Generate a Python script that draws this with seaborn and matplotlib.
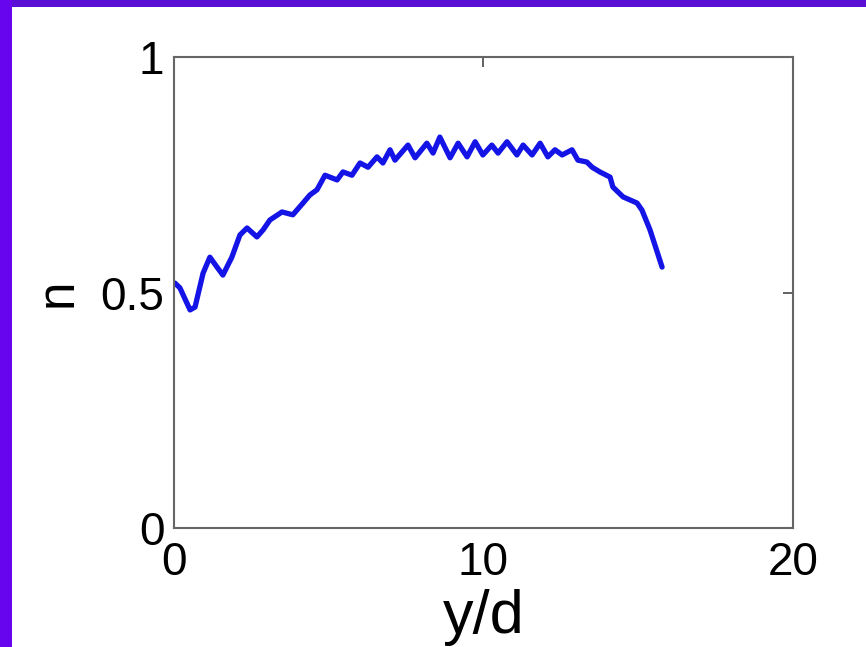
import matplotlib
matplotlib.use('Agg')
import matplotlib.pyplot as plt
import seaborn as sns
import pandas as pd
from matplotlib.patches import Rectangle

# values
y_over_d = [0.03, 0.19, 0.52, 0.68, 0.94, 1.16, 1.39, 1.58, 1.87, 2.13,
            2.36, 2.68, 2.88, 3.10, 3.49, 3.84, 4.17, 4.39, 4.62, 4.88,
            5.27, 5.46, 5.75, 6.01, 6.27, 6.56, 6.75, 6.98, 7.14, 7.56,
            7.79, 8.17, 8.37, 8.59, 8.92, 9.18, 9.47, 9.73, 9.98, 10.27,
            10.47, 10.76, 11.08, 11.28, 11.57, 11.83, 12.08, 12.31, 12.54, 12.86,
            13.05, 13.34, 13.51, 13.76, 14.09, 14.18, 14.51, 14.96, 15.12, 15.38,
            15.77]
n_vals = [0.520, 0.510, 0.463, 0.469, 0.541, 0.575, 0.554, 0.537, 0.575, 0.622,
          0.637, 0.618, 0.633, 0.654, 0.671, 0.665, 0.690, 0.707, 0.718, 0.749,
          0.739, 0.756, 0.749, 0.775, 0.766, 0.788, 0.775, 0.803, 0.781, 0.813,
          0.786, 0.817, 0.796, 0.830, 0.786, 0.817, 0.788, 0.820, 0.792, 0.813,
          0.796, 0.820, 0.792, 0.813, 0.792, 0.817, 0.788, 0.803, 0.792, 0.803,
          0.781, 0.777, 0.766, 0.756, 0.745, 0.724, 0.703, 0.690, 0.675, 0.633,
          0.554]
x_ticks = [0, 10, 20]
y_ticks = [0, 0.5, 1]
y_tick_labels = ['0', '0.5', '1']

sns.set_theme(style='white')
plt.rcParams['font.family'] = ['Liberation Sans', 'DejaVu Sans']

df = pd.DataFrame({'y/d': y_over_d, 'n': n_vals})

fig = plt.figure(figsize=(8.66, 6.47), dpi=100, facecolor='white')
ax = fig.add_axes([0.2009, 0.1839, 0.7148, 0.7280])

sns.lineplot(data=df, x='y/d', y='n', ax=ax, sort=False,
             color='#1414e6', linewidth=3.8, solid_joinstyle='round',
             solid_capstyle='round')

ax.set_xlim(0, 20)
ax.set_ylim(0, 1)
ax.set_xticks(x_ticks)
ax.set_yticks(y_ticks)
ax.set_yticklabels(y_tick_labels)
ax.tick_params(direction='in', length=7, width=1.3, color='#555555',
               labelsize=33, labelcolor='black', top=True, right=True)
ax.tick_params(axis='x', pad=9)
ax.tick_params(axis='y', pad=7)
for s in ax.spines.values():
    s.set_visible(True)
    s.set_color('#666666')
    s.set_linewidth(1.5)

ax.set_xlabel('y/d', fontsize=44, color='black', labelpad=3)
ax.set_ylabel('n', fontsize=37, color='black', labelpad=13)

# purple slide frame along the top and left edges
fig.patches.append(Rectangle((0, 1 - 7 / 647), 1, 7 / 647, transform=fig.transFigure,
                             facecolor='#5a10d4', edgecolor='none', zorder=10))
fig.patches.append(Rectangle((0, 0), 12 / 866, 1, transform=fig.transFigure,
                             facecolor='#6605ee', edgecolor='none', zorder=10))

fig.savefig('out.png', dpi=100, facecolor='white')
